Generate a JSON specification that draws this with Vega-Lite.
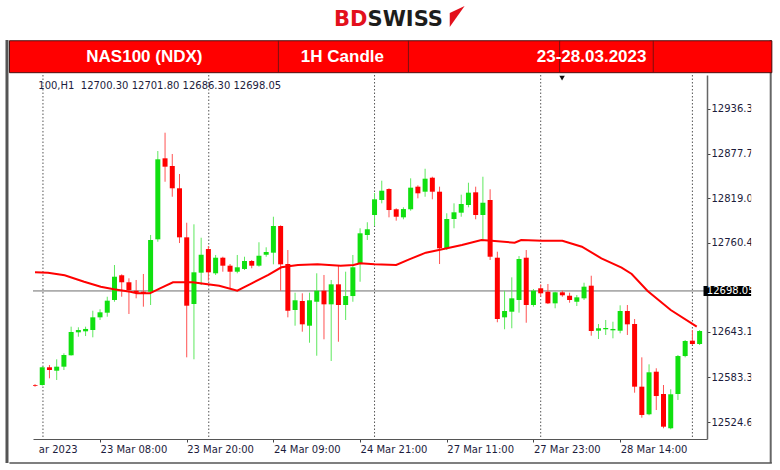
{
  "$schema": "https://vega.github.io/schema/vega-lite/v6.json",
  "width": 674,
  "height": 364,
  "autosize": {"type": "none"},
  "padding": {"left": 33, "top": 75, "right": 73, "bottom": 31},
  "background": "white",
  "config": {"view": {"stroke": null}, "font": "DejaVu Sans"},
  "data": {"values": [{}]},
  "datasets": {
    "candles": [
      {"i": -1, "o": 12573.0, "h": 12574.5, "l": 12571.0, "c": 12572.0},
      {"i": 0, "o": 12573.3, "h": 12597.5, "l": 12572.5, "c": 12596.6},
      {"i": 1, "o": 12596.6, "h": 12599.6, "l": 12582.1, "c": 12593.0},
      {"i": 2, "o": 12592.1, "h": 12607.1, "l": 12579.9, "c": 12597.4},
      {"i": 3, "o": 12597.4, "h": 12615.0, "l": 12593.0, "c": 12612.8},
      {"i": 4, "o": 12612.4, "h": 12650.0, "l": 12612.0, "c": 12643.0},
      {"i": 5, "o": 12642.6, "h": 12649.2, "l": 12636.8, "c": 12645.6},
      {"i": 6, "o": 12643.9, "h": 12650.0, "l": 12637.7, "c": 12647.0},
      {"i": 7, "o": 12645.6, "h": 12671.0, "l": 12636.0, "c": 12662.3},
      {"i": 8, "o": 12662.3, "h": 12672.9, "l": 12658.8, "c": 12668.9},
      {"i": 9, "o": 12668.4, "h": 12689.4, "l": 12663.1, "c": 12684.2},
      {"i": 10, "o": 12685.1, "h": 12731.1, "l": 12682.8, "c": 12715.7},
      {"i": 11, "o": 12717.6, "h": 12718.9, "l": 12689.4, "c": 12708.4},
      {"i": 12, "o": 12708.4, "h": 12713.6, "l": 12666.7, "c": 12698.2},
      {"i": 13, "o": 12697.3, "h": 12711.4, "l": 12687.3, "c": 12694.7},
      {"i": 14, "o": 12696.0, "h": 12719.3, "l": 12676.3, "c": 12693.9},
      {"i": 15, "o": 12696.0, "h": 12770.6, "l": 12678.5, "c": 12764.0},
      {"i": 16, "o": 12764.9, "h": 12881.0, "l": 12761.7, "c": 12870.1},
      {"i": 17, "o": 12871.4, "h": 12905.1, "l": 12840.6, "c": 12860.4},
      {"i": 18, "o": 12861.3, "h": 12877.1, "l": 12820.9, "c": 12832.0},
      {"i": 19, "o": 12832.0, "h": 12850.8, "l": 12760.0, "c": 12767.5},
      {"i": 20, "o": 12767.5, "h": 12786.7, "l": 12609.7, "c": 12677.6},
      {"i": 21, "o": 12679.8, "h": 12784.6, "l": 12607.1, "c": 12721.5},
      {"i": 22, "o": 12721.0, "h": 12767.0, "l": 12704.8, "c": 12744.6},
      {"i": 23, "o": 12752.1, "h": 12756.1, "l": 12710.5, "c": 12721.5},
      {"i": 24, "o": 12720.2, "h": 12744.3, "l": 12718.0, "c": 12740.7},
      {"i": 25, "o": 12740.7, "h": 12742.0, "l": 12722.3, "c": 12730.2},
      {"i": 26, "o": 12730.2, "h": 12732.4, "l": 12700.5, "c": 12722.3},
      {"i": 27, "o": 12722.3, "h": 12744.3, "l": 12720.2, "c": 12728.1},
      {"i": 28, "o": 12725.9, "h": 12742.0, "l": 12724.5, "c": 12736.4},
      {"i": 29, "o": 12736.4, "h": 12737.7, "l": 12726.8, "c": 12730.2},
      {"i": 30, "o": 12730.2, "h": 12761.0, "l": 12728.9, "c": 12743.3},
      {"i": 31, "o": 12744.6, "h": 12754.4, "l": 12742.0, "c": 12748.2},
      {"i": 32, "o": 12747.3, "h": 12794.6, "l": 12732.0, "c": 12782.4},
      {"i": 33, "o": 12782.4, "h": 12783.3, "l": 12697.3, "c": 12732.0},
      {"i": 34, "o": 12732.4, "h": 12750.8, "l": 12662.3, "c": 12671.0},
      {"i": 35, "o": 12671.9, "h": 12694.7, "l": 12651.3, "c": 12684.7},
      {"i": 36, "o": 12683.8, "h": 12693.9, "l": 12643.4, "c": 12653.1},
      {"i": 37, "o": 12651.3, "h": 12694.7, "l": 12628.9, "c": 12684.7},
      {"i": 38, "o": 12682.8, "h": 12720.2, "l": 12611.8, "c": 12697.3},
      {"i": 39, "o": 12697.3, "h": 12718.0, "l": 12633.4, "c": 12679.4},
      {"i": 40, "o": 12679.4, "h": 12711.4, "l": 12604.9, "c": 12705.7},
      {"i": 41, "o": 12705.7, "h": 12730.7, "l": 12630.2, "c": 12678.5},
      {"i": 42, "o": 12678.5, "h": 12722.3, "l": 12658.8, "c": 12690.3},
      {"i": 43, "o": 12690.3, "h": 12744.3, "l": 12682.8, "c": 12728.1},
      {"i": 44, "o": 12732.4, "h": 12779.4, "l": 12709.1, "c": 12772.8},
      {"i": 45, "o": 12770.6, "h": 12787.3, "l": 12764.0, "c": 12778.1},
      {"i": 46, "o": 12796.9, "h": 12825.8, "l": 12782.4, "c": 12817.5},
      {"i": 47, "o": 12816.6, "h": 12842.0, "l": 12812.2, "c": 12828.8},
      {"i": 48, "o": 12831.0, "h": 12832.0, "l": 12793.8, "c": 12803.4},
      {"i": 49, "o": 12804.4, "h": 12805.7, "l": 12789.4, "c": 12794.6},
      {"i": 50, "o": 12793.8, "h": 12807.0, "l": 12791.2, "c": 12804.7},
      {"i": 51, "o": 12804.4, "h": 12845.1, "l": 12802.5, "c": 12832.8},
      {"i": 52, "o": 12834.1, "h": 12835.9, "l": 12818.8, "c": 12825.4},
      {"i": 53, "o": 12827.5, "h": 12857.7, "l": 12820.9, "c": 12844.6},
      {"i": 54, "o": 12845.9, "h": 12847.2, "l": 12817.5, "c": 12827.5},
      {"i": 55, "o": 12827.5, "h": 12834.1, "l": 12732.4, "c": 12753.1},
      {"i": 56, "o": 12753.1, "h": 12799.1, "l": 12750.8, "c": 12791.6},
      {"i": 57, "o": 12791.6, "h": 12812.2, "l": 12779.4, "c": 12800.4},
      {"i": 58, "o": 12799.9, "h": 12823.6, "l": 12794.6, "c": 12811.3},
      {"i": 59, "o": 12810.0, "h": 12839.3, "l": 12807.0, "c": 12826.2},
      {"i": 60, "o": 12826.7, "h": 12834.1, "l": 12791.2, "c": 12796.9},
      {"i": 61, "o": 12796.9, "h": 12847.2, "l": 12764.0, "c": 12813.0},
      {"i": 62, "o": 12816.6, "h": 12830.7, "l": 12737.7, "c": 12742.0},
      {"i": 63, "o": 12740.7, "h": 12748.6, "l": 12655.8, "c": 12660.1},
      {"i": 64, "o": 12662.3, "h": 12697.3, "l": 12646.6, "c": 12670.6},
      {"i": 65, "o": 12669.7, "h": 12714.9, "l": 12647.9, "c": 12687.3},
      {"i": 66, "o": 12685.1, "h": 12742.9, "l": 12668.4, "c": 12739.0},
      {"i": 67, "o": 12740.7, "h": 12750.8, "l": 12655.2, "c": 12678.5},
      {"i": 68, "o": 12678.5, "h": 12699.5, "l": 12676.3, "c": 12697.3},
      {"i": 69, "o": 12700.5, "h": 12705.7, "l": 12689.4, "c": 12693.9},
      {"i": 70, "o": 12696.0, "h": 12706.1, "l": 12679.8, "c": 12680.7},
      {"i": 71, "o": 12680.7, "h": 12696.0, "l": 12674.2, "c": 12695.2},
      {"i": 72, "o": 12695.2, "h": 12697.3, "l": 12689.4, "c": 12691.3},
      {"i": 73, "o": 12690.7, "h": 12694.7, "l": 12681.5, "c": 12685.1},
      {"i": 74, "o": 12682.8, "h": 12691.7, "l": 12677.2, "c": 12688.6},
      {"i": 75, "o": 12687.3, "h": 12707.8, "l": 12685.1, "c": 12702.6},
      {"i": 76, "o": 12703.9, "h": 12717.0, "l": 12638.1, "c": 12644.3},
      {"i": 77, "o": 12644.7, "h": 12653.5, "l": 12633.8, "c": 12647.9},
      {"i": 78, "o": 12646.6, "h": 12658.8, "l": 12639.1, "c": 12648.3},
      {"i": 79, "o": 12645.2, "h": 12656.5, "l": 12634.7, "c": 12647.0},
      {"i": 80, "o": 12644.7, "h": 12678.1, "l": 12641.3, "c": 12670.6},
      {"i": 81, "o": 12670.6, "h": 12678.5, "l": 12639.1, "c": 12653.1},
      {"i": 82, "o": 12653.5, "h": 12660.1, "l": 12563.2, "c": 12571.1},
      {"i": 83, "o": 12571.1, "h": 12609.7, "l": 12530.3, "c": 12533.9},
      {"i": 84, "o": 12534.8, "h": 12600.5, "l": 12533.5, "c": 12590.0},
      {"i": 85, "o": 12590.8, "h": 12595.3, "l": 12540.4, "c": 12558.8},
      {"i": 86, "o": 12561.5, "h": 12573.3, "l": 12516.4, "c": 12518.5},
      {"i": 87, "o": 12516.4, "h": 12567.7, "l": 12515.1, "c": 12561.1},
      {"i": 88, "o": 12561.5, "h": 12612.8, "l": 12553.6, "c": 12611.4},
      {"i": 89, "o": 12611.4, "h": 12632.5, "l": 12609.7, "c": 12631.2},
      {"i": 90, "o": 12631.6, "h": 12645.6, "l": 12625.9, "c": 12627.2},
      {"i": 91, "o": 12627.2, "h": 12645.6, "l": 12625.9, "c": 12644.3}
    ],
    "ma": [
      {"i": -1, "p": 12721.5}, {"i": 0.8, "p": 12721.0}, {"i": 3.1, "p": 12717.6},
      {"i": 5.8, "p": 12709.1}, {"i": 8.1, "p": 12702.6}, {"i": 9.9, "p": 12699.2},
      {"i": 12.2, "p": 12696.0}, {"i": 13.1, "p": 12693.9}, {"i": 14.9, "p": 12693.9},
      {"i": 16.3, "p": 12700.5}, {"i": 18.1, "p": 12708.4}, {"i": 20.8, "p": 12708.4},
      {"i": 22.9, "p": 12705.7}, {"i": 24.5, "p": 12703.9}, {"i": 27.0, "p": 12697.3},
      {"i": 29.0, "p": 12707.0}, {"i": 31.3, "p": 12718.0}, {"i": 33.1, "p": 12728.1},
      {"i": 35.4, "p": 12731.1}, {"i": 38.1, "p": 12732.0}, {"i": 41.3, "p": 12730.2},
      {"i": 43.1, "p": 12731.1}, {"i": 44.0, "p": 12733.3}, {"i": 46.0, "p": 12732.0},
      {"i": 49.0, "p": 12731.1}, {"i": 50.8, "p": 12738.6}, {"i": 53.1, "p": 12747.3},
      {"i": 54.9, "p": 12750.8}, {"i": 58.1, "p": 12757.4}, {"i": 60.8, "p": 12764.0},
      {"i": 62.2, "p": 12763.1}, {"i": 65.4, "p": 12760.4}, {"i": 66.3, "p": 12764.0},
      {"i": 69.2, "p": 12763.1}, {"i": 72.0, "p": 12763.1}, {"i": 74.7, "p": 12755.2},
      {"i": 77.4, "p": 12739.9}, {"i": 80.2, "p": 12727.6}, {"i": 81.6, "p": 12719.3},
      {"i": 83.8, "p": 12696.9}, {"i": 87.0, "p": 12671.9}, {"i": 90.6, "p": 12650.0}
    ],
    "grid": [{"g": 0.1}, {"g": 23.05}, {"g": 46.0}, {"g": 69.0}, {"g": 90.0}],
    "banner": [
      {"t": "NAS100 (NDX)", "x": 14.14},
      {"t": "1H Candle", "x": 41.55},
      {"t": "23-28.03.2023", "x": 76.05}
    ],
    "dividers": [{"x": 32.69}, {"x": 50.69}, {"x": 71.62}, {"x": 84.58}]
  },
  "layer": [
    {
      "data": {"name": "candles"},
      "mark": {"type": "rule", "strokeWidth": 1, "clip": true, "opacity": 0},
      "encoding": {
        "x": {"field": "i", "type": "quantitative",
              "scale": {"domain": [-0.587, 91.33], "nice": false, "zero": false},
              "axis": {"orient": "bottom", "title": null, "grid": false,
                       "values": [-0.55, 8, 20, 32, 44, 56, 68, 80],
                       "labelExpr": "datum.value < 0 ? 'ar 2023' : datum.value == 8 ? '23 Mar 08:00' : datum.value == 20 ? '23 Mar 20:00' : datum.value == 32 ? '24 Mar 09:00' : datum.value == 44 ? '24 Mar 21:00' : datum.value == 56 ? '27 Mar 11:00' : datum.value == 68 ? '27 Mar 23:00' : '28 Mar 14:00'",
                       "labelAlign": "left", "labelBaseline": "top", "labelPadding": 2,
                       "labelFont": "DejaVu Sans", "labelFontSize": 10, "labelColor": "#1c1c3c",
                       "labelFlush": false, "labelOverlap": false, "labelBound": false,
                       "tickSize": 3, "tickColor": {"condition": {"test": "datum.value < 0", "value": "transparent"}, "value": "#444"},
                       "domainColor": "#555", "domainWidth": 1}},
        "y": {"field": "l", "type": "quantitative",
              "scale": {"domain": [12502.3, 12980.97], "nice": false, "zero": false},
              "axis": {"orient": "right", "title": null, "grid": false,
                       "values": [12524.65, 12583.3, 12643.1, 12760.4, 12819.05, 12877.7, 12936.35],
                       "format": ".2f", "labelAlign": "left", "labelPadding": 1,
                       "labelFont": "DejaVu Sans", "labelFontSize": 10, "labelColor": "#1c1c3c",
                       "labelFlush": false, "labelOverlap": false, "labelBound": false,
                       "tickSize": 3, "tickColor": "#444", "domainColor": "#666", "domainWidth": 1.5}},
        "y2": {"field": "h"}
      }
    },
    {
      "data": {"name": "grid"},
      "mark": {"type": "rule", "color": "#555555", "strokeWidth": 1, "strokeDash": [1.5, 2]},
      "encoding": {
        "x": {"field": "g", "type": "quantitative"}
      }
    },
    {
      "mark": {"type": "rule", "color": "#6e6e6e", "strokeWidth": 1},
      "encoding": {
        "y": {"datum": 12697.0, "type": "quantitative"}
      }
    },
    {
      "data": {"name": "candles"},
      "mark": {"type": "rule", "strokeWidth": 1, "clip": true},
      "encoding": {
        "x": {"field": "i", "type": "quantitative"},
        "y": {"field": "l", "type": "quantitative"},
        "y2": {"field": "h"},
        "color": {"condition": {"test": "datum.c >= datum.o", "value": "#5ee85e"}, "value": "#ff5252"}
      }
    },
    {
      "data": {"name": "candles"},
      "mark": {"type": "bar", "size": 5, "clip": true},
      "encoding": {
        "x": {"field": "i", "type": "quantitative"},
        "y": {"field": "o", "type": "quantitative"},
        "y2": {"field": "c"},
        "color": {"condition": {"test": "datum.c >= datum.o", "value": "#10e010"}, "value": "#ff0000"}
      }
    },
    {
      "data": {"name": "ma"},
      "mark": {"type": "line", "color": "#ff0000", "strokeWidth": 2, "clip": true},
      "encoding": {
        "x": {"field": "i", "type": "quantitative"},
        "y": {"field": "p", "type": "quantitative"}
      }
    },
    {
      "mark": {"type": "text", "align": "left", "baseline": "middle", "font": "DejaVu Sans", "fontSize": 10, "color": "#1c1c3c",
               "text": "100,H1\u00a0\u00a012700.30 12701.80 12686.30 12698.05"},
      "encoding": {
        "x": {"datum": -0.55, "type": "quantitative"},
        "y": {"datum": 12966.5, "type": "quantitative"}
      }
    },
    {
      "mark": {"type": "point", "shape": "triangle-down", "size": 30, "filled": true, "color": "#111111", "opacity": 1},
      "encoding": {
        "x": {"datum": 71.96, "type": "quantitative"},
        "y": {"datum": 12977.0, "type": "quantitative"}
      }
    },
    {
      "mark": {"type": "rect", "color": "#000000"},
      "encoding": {
        "x": {"datum": 91.54, "type": "quantitative"},
        "x2": {"datum": 98.2},
        "y": {"datum": 12703.5, "type": "quantitative"},
        "y2": {"datum": 12690.5}
      }
    },
    {
      "mark": {"type": "text", "align": "left", "baseline": "middle", "font": "DejaVu Sans", "fontSize": 10, "color": "#ffffff", "text": "12698.05"},
      "encoding": {
        "x": {"datum": 92.0, "type": "quantitative"},
        "y": {"datum": 12697.0, "type": "quantitative"}
      }
    },
    {
      "mark": {"type": "rect", "color": "#ffffff"},
      "encoding": {
        "x": {"datum": 98.14, "type": "quantitative"},
        "x2": {"datum": 100.74},
        "y": {"datum": 12981.0, "type": "quantitative"},
        "y2": {"datum": 12473.0}
      }
    },
    {
      "mark": {"type": "rule", "color": "#666666", "strokeWidth": 2},
      "encoding": {
        "x": {"datum": 100.84, "type": "quantitative"},
        "y": {"datum": 13027.0, "type": "quantitative"},
        "y2": {"datum": 12470.7}
      }
    },
    {
      "mark": {"type": "rule", "color": "#555555", "strokeWidth": 3},
      "encoding": {
        "x": {"datum": -4.88, "type": "quantitative"},
        "y": {"datum": 13027.0, "type": "quantitative"},
        "y2": {"datum": 12470.7}
      }
    },
    {
      "mark": {"type": "rule", "color": "#555555", "strokeWidth": 1.5},
      "encoding": {
        "x": {"datum": -4.54, "type": "quantitative"},
        "x2": {"datum": 101.0},
        "y": {"datum": 12470.7, "type": "quantitative"}
      }
    },
    {
      "mark": {"type": "rect", "color": "#ff0000", "stroke": "#4a1010", "strokeWidth": 1},
      "encoding": {
        "x": {"datum": -4.54, "type": "quantitative"},
        "x2": {"datum": 101.0},
        "y": {"datum": 13026.0, "type": "quantitative"},
        "y2": {"datum": 12984.0}
      }
    },
    {
      "data": {"name": "dividers"},
      "mark": {"type": "rule", "color": "#7a1010", "strokeWidth": 1},
      "encoding": {
        "x": {"field": "x", "type": "quantitative"},
        "y": {"datum": 13026.0, "type": "quantitative"},
        "y2": {"datum": 12984.0}
      }
    },
    {
      "data": {"name": "banner"},
      "mark": {"type": "text", "align": "center", "baseline": "middle", "font": "Liberation Sans", "fontWeight": "bold", "fontSize": 17, "color": "#ffffff"},
      "encoding": {
        "x": {"field": "x", "type": "quantitative"},
        "y": {"datum": 13004.6, "type": "quantitative"},
        "text": {"field": "t"}
      }
    },
    {
      "mark": {"type": "text", "align": "right", "baseline": "alphabetic", "font": "DejaVu Sans", "fontWeight": "bold", "fontSize": 21, "color": "#e3101c", "text": "BD"},
      "encoding": {
        "x": {"datum": 45.03, "type": "quantitative"},
        "y": {"datum": 13045.8, "type": "quantitative"}
      }
    },
    {
      "mark": {"type": "text", "align": "left", "baseline": "alphabetic", "font": "DejaVu Sans", "fontWeight": "bold", "fontSize": 21, "color": "#1d1d1b", "text": "SWISS"},
      "encoding": {
        "x": {"datum": 45.03, "type": "quantitative"},
        "y": {"datum": 13045.8, "type": "quantitative"}
      }
    },
    {
      "mark": {"type": "point", "shape": "M-0.71,-0.33L0.71,-1L-0.71,1Z", "size": 441, "filled": true, "color": "#e3101c", "opacity": 1, "strokeWidth": 0},
      "encoding": {
        "x": {"datum": 57.44, "type": "quantitative"},
        "y": {"datum": 13057.9, "type": "quantitative"}
      }
    }
  ]
}
